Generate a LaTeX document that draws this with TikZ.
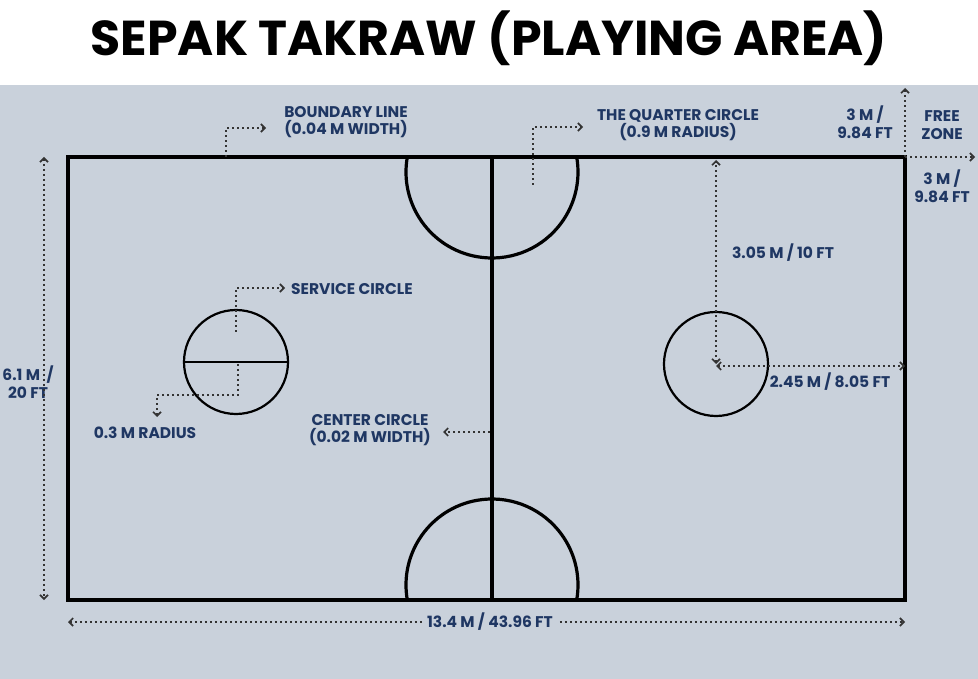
\documentclass[tikz,border=0pt]{standalone}
\usepackage{fontspec}
\setmainfont{Poppins}
\usetikzlibrary{arrows.meta}
\definecolor{bg}{HTML}{C9D1DB}
\definecolor{navy}{HTML}{1F3763}
\definecolor{dotc}{HTML}{333333}
\tikzset{
 court/.style={line width=3.2pt},
 thin/.style={line width=2.2pt},
 dimline/.style={dotc,line width=2pt,dash pattern=on 2pt off 3pt,-{Straight Barb[length=4pt,width=8pt,line width=1.6pt]}},
 dimboth/.style={dimline,{Straight Barb[length=4pt,width=8pt,line width=1.6pt]}-{Straight Barb[length=4pt,width=8pt,line width=1.6pt]}},
 lbl/.style={text=navy,font=\bfseries\fontsize{15.5}{17.5}\selectfont,align=center,inner sep=1pt},
}
\begin{document}
\begin{tikzpicture}[x=1pt,y=-1pt]
\useasboundingbox (0,0) rectangle (978,679);
\fill[white] (0,0) rectangle (978,679);
\fill[bg] (0,85) rectangle (978,679);
\node[font=\bfseries\fontsize{49}{52}\selectfont] (title) at (489,38) {SEPAK TAKRAW (PLAYING AREA)};
% court
\draw[court] (68,157) rectangle (905,600);
\draw[court] (492,157) -- (492,600);
\draw[court] ([shift={(190:86)}]492,172) arc[start angle=190,end angle=-10,radius=86];
\draw[court] ([shift={(170:86)}]492,585) arc[start angle=170,end angle=370,radius=86];
\node[circle,draw,thin,minimum size=104pt,inner sep=0] (sc1) at (236,362) {};
\draw[thin] (sc1.west) -- (sc1.east);
\node[circle,draw,thin,minimum size=104pt,inner sep=0] (sc2) at (716,364) {};
% coords
\coordinate (bl0) at (226,157); \coordinate (bl1) at (266,128);
\coordinate (qc0) at (533,185); \coordinate (qc1) at (583,127);
\coordinate (sv0) at (236,332); \coordinate (sv1) at (285,288);
\coordinate (r0) at (238,364); \coordinate (r1) at (157,417);
\coordinate (cc0) at (490,432); \coordinate (cc1) at (443,432);
\coordinate (tr) at (905,157);
% labels
\node[lbl] (lb) at (346,122) {BOUNDARY LINE\\(0.04 M WIDTH)};
\node[lbl] (lq) at (678,125) {THE QUARTER CIRCLE\\(0.9 M RADIUS)};
\node[lbl,anchor=west] (ls) at (290,289) {SERVICE CIRCLE};
\node[lbl] (lr) at (145,433) {0.3 M RADIUS};
\node[lbl] (lc) at (370,430) {CENTER CIRCLE\\(0.02 M WIDTH)};
\node[lbl] (l305) at (783,253) {3.05 M / 10 FT};
\node[lbl] (l245) at (830,382) {2.45 M / 8.05 FT};
\node[lbl] (l3a) at (865,122) {3 M /\\9.84 FT};
\node[lbl] (lfz) at (942,125) {FREE\\ZONE};
\node[lbl] (l3b) at (942,186) {3 M /\\9.84 FT};
\node[lbl] (l61) at (28,382) {6.1 M~ /\\20 FT};
% dims
\draw[dimline] (bl0) |- (bl1);
\draw[dimline] (qc0) |- (qc1);
\draw[dimline] (sv0) |- (sv1);
\draw[dimline] (r0) -- (238,395) -| (r1);
\draw[dimline] (cc0) -- (cc1);
\draw[dimboth] (sc2.center) -- (716,160);
\draw[dimboth] (716,366) -- (905,366);
\draw[dimline] (tr) -- (905,88);
\draw[dimline] (tr) -- (975,157);
\draw[dimboth] (44,157) -- (44,600);
\draw[dimboth] (68,622) -- (905,622);
\node[lbl,fill=bg,inner xsep=4pt] (l134) at (490,622) {13.4 M / 43.96 FT};
\end{tikzpicture}
\end{document}
